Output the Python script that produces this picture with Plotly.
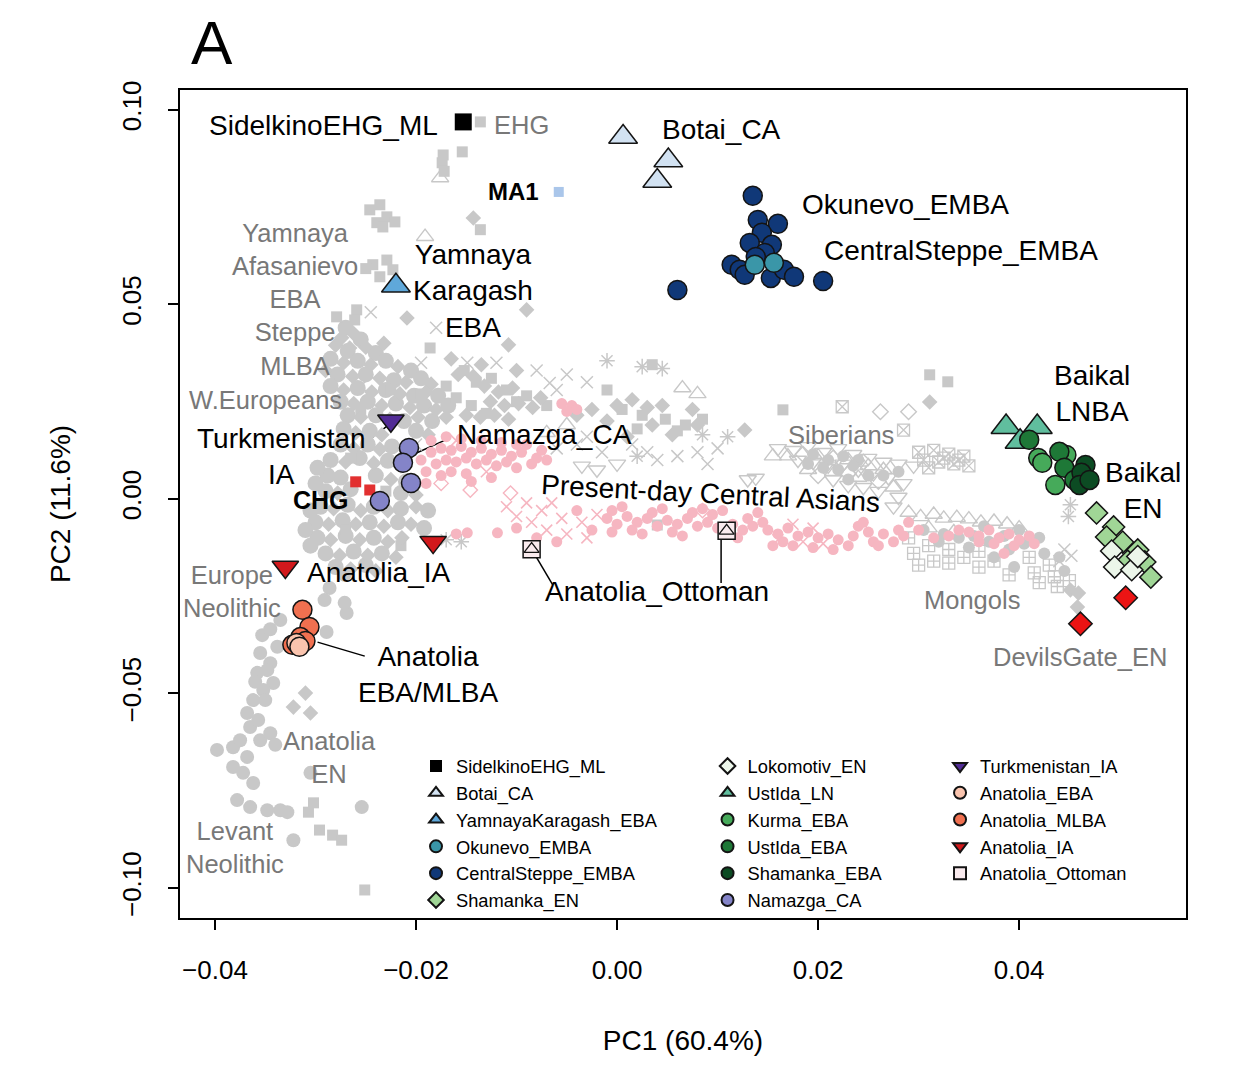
import plotly.graph_objects as go

# ------------------------------------------------------------------ DATA
# highlighted ancient groups (PC1, PC2)
SIDELKINO = [(-0.0153, 0.0969)]
MA1 = [(-0.0058, 0.0789)]
CHG = [(-0.0260, 0.0044), (-0.0246, 0.0023)]
BOTAI = [(0.0006, 0.0930), (0.0051, 0.0870), (0.0040, 0.0817)]
YAMNAYA_KARAGASH = [(-0.0220, 0.0548)]
OKUNEVO = [(0.0137, 0.0602), (0.0156, 0.0607)]
CENTRAL_STEPPE = [(0.0135, 0.0779), (0.0140, 0.0717), (0.0160, 0.0707), (0.0144, 0.0684),
                  (0.0132, 0.0658), (0.0154, 0.0653), (0.0147, 0.0632), (0.0138, 0.0622),
                  (0.0114, 0.0602), (0.0122, 0.0589), (0.0127, 0.0576), (0.0153, 0.0568),
                  (0.0166, 0.0589), (0.0176, 0.0571), (0.0205, 0.0560), (0.0060, 0.0537)]
SHAMANKA_EN = [(0.0477, -0.0036), (0.0494, -0.0072), (0.0487, -0.0098), (0.0503, -0.0111),
               (0.0518, -0.0131), (0.0525, -0.0162), (0.0531, -0.0201), (0.0508, -0.0160)]
LOKOMOTIV_EN = [(0.0492, -0.0134), (0.0495, -0.0175), (0.0512, -0.0182), (0.0518, -0.0148)]
USTIDA_LN = [(0.0387, 0.0185), (0.0418, 0.0185), (0.0401, 0.0147)]
KURMA_EBA = [(0.0419, 0.0105), (0.0436, 0.0036), (0.0447, 0.0113), (0.0423, 0.0093)]
USTIDA_EBA = [(0.0410, 0.0152), (0.0440, 0.0121), (0.0445, 0.0080), (0.0455, 0.0049)]
SHAMANKA_EBA = [(0.0466, 0.0087), (0.0462, 0.0067), (0.0460, 0.0036), (0.0470, 0.0049)]
NAMAZGA_CA = [(-0.0207, 0.0131), (-0.0213, 0.0093), (-0.0205, 0.0041), (-0.0236, -0.0005)]
TURKMENISTAN_IA = [(-0.0225, 0.0201)]
ANATOLIA_EBA = [(-0.0319, -0.0370), (-0.0316, -0.0380)]
ANATOLIA_MLBA = [(-0.0313, -0.0285), (-0.0306, -0.0329), (-0.0315, -0.0355),
                 (-0.0310, -0.0365), (-0.0323, -0.0375)]
ANATOLIA_IA = [(-0.0330, -0.0175), (-0.0183, -0.0111)]
ANATOLIA_OTTOMAN = [(-0.0085, -0.0129), (0.0109, -0.0082)]
DEVILSGATE_EN = [(0.0461, -0.0321), (0.0506, -0.0254)]

# background reference individuals (grey) and present-day Central Asians (pink)
BG_CIRCLE_ARC = [
    (-0.0289, -0.0342), (-0.0353, -0.0350), (-0.0335, -0.0311), (-0.0355, -0.0396), (-0.0345, -0.0422),
    (-0.0358, -0.0447), (-0.0342, -0.0473), (-0.0352, -0.0491), (-0.0362, -0.0517), (-0.0368, -0.0550),
    (-0.0365, -0.0586), (-0.0355, -0.0620), (-0.0398, -0.0645), (-0.0382, -0.0638), (-0.0368, -0.0663),
    (-0.0382, -0.0689), (-0.0372, -0.0704), (-0.0362, -0.0730), (-0.0378, -0.0774), (-0.0365, -0.0792),
    (-0.0348, -0.0800), (-0.0335, -0.0800), (-0.0328, -0.0805), (-0.0254, -0.0792), (-0.0322, -0.0877),
    (-0.0305, -0.0704), (-0.0345, -0.0602), (-0.0340, -0.0632), (-0.0269, -0.0293), (-0.0271, -0.0267),
    (-0.0286, -0.0229), (-0.0271, -0.0195), (-0.0291, -0.0260), (-0.0350, -0.0517), (-0.0357, -0.0568),
    (-0.0375, -0.0620), (-0.0348, -0.0440), (-0.0338, -0.0380), (-0.0345, -0.0335), (-0.0360, -0.0470),
]
BG_CIRCLE_BLOB = [
    (-0.0270, 0.0440), (-0.0255, 0.0410), (-0.0268, 0.0380), (-0.0240, 0.0375),
    (-0.0285, 0.0360), (-0.0258, 0.0355), (-0.0230, 0.0355), (-0.0205, 0.0330),
    (-0.0278, 0.0320), (-0.0250, 0.0320), (-0.0222, 0.0305), (-0.0195, 0.0310),
    (-0.0285, 0.0290), (-0.0258, 0.0285), (-0.0230, 0.0280), (-0.0202, 0.0265), (-0.0178, 0.0265),
    (-0.0275, 0.0250), (-0.0248, 0.0250), (-0.0220, 0.0245), (-0.0192, 0.0240), (-0.0168, 0.0240),
    (-0.0268, 0.0215), (-0.0240, 0.0215), (-0.0212, 0.0200), (-0.0184, 0.0200),
    (-0.0272, 0.0180), (-0.0246, 0.0175), (-0.0200, 0.0175),
    (-0.0275, 0.0140), (-0.0248, 0.0140), (-0.0224, 0.0135),
    (-0.0285, 0.0100), (-0.0256, 0.0105), (-0.0228, 0.0098),
    (-0.0288, 0.0060), (-0.0275, 0.0055), (-0.0240, 0.0060), (-0.0210, 0.0045),
    (-0.0290, 0.0020), (-0.0265, 0.0025), (-0.0215, 0.0015),
    (-0.0295, -0.0020), (-0.0268, -0.0015), (-0.0242, -0.0020), (-0.0215, -0.0025), (-0.0188, -0.0030),
    (-0.0300, -0.0060), (-0.0273, -0.0055), (-0.0246, -0.0060), (-0.0218, -0.0060), (-0.0192, -0.0075),
    (-0.0298, -0.0100), (-0.0270, -0.0095), (-0.0242, -0.0100),
    (-0.0290, -0.0140), (-0.0262, -0.0135), (-0.0234, -0.0140),
    (-0.0280, -0.0175), (-0.0250, -0.0170),
    (-0.0305, -0.0030), (-0.0310, -0.0080), (-0.0305, -0.0120), (-0.0300, 0.0040), (-0.0298, 0.0080),
]
BG_SQUARE = [
    (-0.0136, 0.0969), (-0.0154, 0.0892), (-0.0173, 0.0884), (-0.0174, 0.0864), (-0.0172, 0.0842),
    (-0.0246, 0.0743), (-0.0236, 0.0756), (-0.0229, 0.0725), (-0.0221, 0.0712), (-0.0239, 0.0710),
    (-0.0233, 0.0699), (-0.0136, 0.0692),
    (-0.0243, 0.0602), (-0.0229, 0.0614), (-0.0223, 0.0589), (-0.0236, 0.0571), (-0.0250, 0.0592),
    (-0.0279, 0.0468), (-0.0259, 0.0486), (-0.0261, 0.0460), (-0.0186, 0.0388),
    (-0.0302, -0.0781), (-0.0307, -0.0805), (-0.0296, -0.0851), (-0.0283, -0.0864), (-0.0274, -0.0877),
    (-0.0251, -0.1005),
    (0.0311, 0.0319), (0.0329, 0.0301), (0.0165, 0.0229), (0.0040, -0.0067), (-0.0010, 0.0280),
    (0.0035, 0.0345),
    (-0.0152, 0.0330), (-0.0140, 0.0300), (-0.0125, 0.0310), (-0.0110, 0.0280), (-0.0100, 0.0250),
    (-0.0090, 0.0265), (-0.0070, 0.0240), (-0.0160, 0.0260), (-0.0145, 0.0240), (-0.0130, 0.0220),
    (-0.0170, 0.0290),
    (0.0005, 0.0230), (0.0025, 0.0215), (0.0048, 0.0205), (0.0068, 0.0190), (0.0085, 0.0205),
    (0.0060, 0.0175), (0.0020, 0.0180),
    (-0.0255, 0.0230), (-0.0225, 0.0280), (-0.0195, 0.0270), (-0.0265, 0.0105), (-0.0230, 0.0020),
    (-0.0270, -0.0080), (-0.0215, -0.0120),
]
BG_DIAMOND = [
    (-0.0262, 0.0425), (-0.0280, 0.0395), (-0.0250, 0.0390), (-0.0232, 0.0400),
    (-0.0272, 0.0350), (-0.0245, 0.0345), (-0.0218, 0.0340),
    (-0.0290, 0.0330), (-0.0263, 0.0315), (-0.0236, 0.0310), (-0.0210, 0.0300), (-0.0185, 0.0295),
    (-0.0272, 0.0280), (-0.0244, 0.0275), (-0.0216, 0.0270), (-0.0190, 0.0275),
    (-0.0262, 0.0245), (-0.0234, 0.0240), (-0.0206, 0.0235), (-0.0180, 0.0230),
    (-0.0255, 0.0210), (-0.0226, 0.0205), (-0.0198, 0.0210), (-0.0170, 0.0210),
    (-0.0260, 0.0170), (-0.0234, 0.0165), (-0.0188, 0.0165),
    (-0.0262, 0.0130), (-0.0236, 0.0128),
    (-0.0270, 0.0095), (-0.0242, 0.0092), (-0.0215, 0.0085), (-0.0225, 0.0050),
    (-0.0278, 0.0015), (-0.0200, 0.0010),
    (-0.0282, -0.0025), (-0.0255, -0.0030), (-0.0228, -0.0030), (-0.0200, -0.0020),
    (-0.0287, -0.0065), (-0.0260, -0.0065), (-0.0232, -0.0070), (-0.0205, -0.0065),
    (-0.0285, -0.0105), (-0.0256, -0.0105), (-0.0228, -0.0110), (-0.0214, -0.0100),
    (-0.0276, -0.0145), (-0.0248, -0.0145), (-0.0220, -0.0150),
    (-0.0265, -0.0180), (-0.0240, -0.0185),
    (-0.0143, 0.0722), (-0.0090, 0.0486), (-0.0108, 0.0396), (-0.0209, 0.0465), (-0.0274, 0.0414),
    (-0.0266, 0.0388), (-0.0310, -0.0499), (-0.0322, -0.0535), (-0.0305, -0.0550),
    (0.0311, 0.0249), (0.0127, 0.0177), (0.0451, -0.0234), (0.0459, -0.0242), (0.0458, -0.0278),
    (-0.0135, 0.0345), (-0.0118, 0.0275), (-0.0098, 0.0245), (-0.0084, 0.0235), (-0.0150, 0.0215),
    (-0.0122, 0.0215), (-0.0108, 0.0205),
    (0.0000, 0.0240), (0.0015, 0.0255), (0.0030, 0.0235), (0.0045, 0.0240), (0.0075, 0.0230),
    (-0.0010, 0.0200), (0.0035, 0.0190), (0.0080, 0.0190), (0.0010, 0.0160), (0.0055, 0.0165),
    (-0.0165, 0.0360), (-0.0158, 0.0320), (-0.0143, 0.0315), (-0.0100, 0.0330), (-0.0132, 0.0290),
    (-0.0104, 0.0285), (-0.0076, 0.0260), (-0.0126, 0.0250), (-0.0112, 0.0240), (-0.0136, 0.0210),
    (-0.0040, 0.0215), (-0.0025, 0.0230),
]
BG_CROSS = [
    (-0.0080, 0.0330), (-0.0050, 0.0320), (-0.0030, 0.0300), (-0.0060, 0.0280), (-0.0180, 0.0440),
    (-0.0245, 0.0480), (-0.0120, 0.0350), (0.0030, 0.0120), (0.0060, 0.0110), (0.0080, 0.0120),
    (0.0100, 0.0130), (0.0040, 0.0100), (-0.0040, 0.0140), (-0.0060, 0.0130), (-0.0015, 0.0120),
    (-0.0030, 0.0160), (0.0015, 0.0140), (0.0090, 0.0090), (-0.0255, 0.0290), (-0.0195, 0.0350),
    (-0.0215, 0.0120), (-0.0200, 0.0140), (0.0445, -0.0130), (0.0452, -0.0146), (0.0440, -0.0160),
    (-0.0149, 0.0350), (-0.0067, 0.0298),
]
BG_ASTERISK = [
    (-0.0010, 0.0355), (0.0025, 0.0340), (0.0045, 0.0335), (-0.0155, -0.0110), (0.0085, 0.0165),
    (0.0110, 0.0160), (0.0451, -0.0015), (0.0449, -0.0045), (-0.0170, -0.0105), (0.0020, 0.0110),
]
BG_TRI_UP = [
    (-0.0176, 0.0825), (-0.0191, 0.0674),
    (0.0170, 0.0110), (0.0200, 0.0110), (0.0230, 0.0100), (0.0215, 0.0070), (0.0250, 0.0085),
    (0.0190, 0.0075), (0.0240, 0.0055), (0.0265, 0.0075), (0.0155, 0.0110), (0.0275, 0.0030),
    (0.0290, -0.0035), (0.0302, -0.0046), (0.0315, -0.0040), (0.0325, -0.0050), (0.0338, -0.0048),
    (0.0350, -0.0052), (0.0362, -0.0060), (0.0375, -0.0058), (0.0388, -0.0065), (0.0400, -0.0075),
    (0.0310, -0.0075), (0.0335, -0.0085),
    (0.0065, 0.0285), (0.0080, 0.0270), (-0.0050, 0.0190), (-0.0070, 0.0170),
]
BG_TRI_DOWN = [
    (0.0160, 0.0130), (0.0175, 0.0125), (0.0190, 0.0135), (0.0205, 0.0120), (0.0220, 0.0130),
    (0.0235, 0.0115), (0.0250, 0.0105), (0.0265, 0.0095), (0.0280, 0.0090), (0.0295, 0.0085),
    (0.0180, 0.0100), (0.0195, 0.0095), (0.0210, 0.0085), (0.0225, 0.0090), (0.0240, 0.0075),
    (0.0255, 0.0065), (0.0270, 0.0055), (0.0285, 0.0040), (0.0280, 0.0005), (0.0275, -0.0020),
    (0.0138, 0.0054), (0.0130, 0.0050), (0.0215, 0.0050), (0.0230, 0.0035), (0.0245, 0.0030),
    (0.0260, 0.0020), (-0.0035, 0.0085), (-0.0020, 0.0075), (0.0000, 0.0090),
]
BG_DIAMOND_OPEN = [
    (0.0262, 0.0224), (0.0290, 0.0224), (0.0185, 0.0115), (0.0215, 0.0105), (0.0245, 0.0095),
    (0.0200, 0.0060), (0.0230, 0.0065), (0.0260, 0.0045),
]
BG_SQUARE_X = [
    (0.0285, 0.0177), (0.0224, 0.0237),
    (0.0300, 0.0120), (0.0315, 0.0125), (0.0330, 0.0115), (0.0345, 0.0110), (0.0305, 0.0100),
    (0.0320, 0.0095), (0.0335, 0.0090), (0.0350, 0.0085), (0.0310, 0.0080), (0.0325, 0.0105),
    (0.0340, 0.0100),
]
BG_SQUARE_CROSS = [
    (0.0290, -0.0100), (0.0295, -0.0140), (0.0310, -0.0120), (0.0315, -0.0160), (0.0330, -0.0130),
    (0.0345, -0.0150), (0.0360, -0.0135), (0.0375, -0.0160), (0.0390, -0.0195), (0.0410, -0.0150),
    (0.0415, -0.0190), (0.0430, -0.0170), (0.0435, -0.0200), (0.0450, -0.0210), (0.0438, -0.0225),
    (0.0420, -0.0215), (0.0360, -0.0175), (0.0330, -0.0165), (0.0300, -0.0170),
]
BG_SMALL_FILL = [
    (0.0305, -0.0080), (0.0325, -0.0090), (0.0340, -0.0100), (0.0355, -0.0095), (0.0365, -0.0070),
    (0.0370, -0.0110), (0.0385, -0.0095), (0.0390, -0.0130), (0.0400, -0.0080), (0.0405, -0.0115),
    (0.0420, -0.0100), (0.0425, -0.0140), (0.0440, -0.0150), (0.0445, -0.0185), (0.0395, -0.0175),
    (0.0375, -0.0150), (0.0350, -0.0125), (0.0320, -0.0110),
    (0.0195, 0.0115), (0.0210, 0.0100), (0.0225, 0.0110), (0.0240, 0.0100), (0.0205, 0.0080),
    (0.0220, 0.0075), (0.0235, 0.0085), (0.0250, 0.0060), (0.0230, 0.0050), (0.0265, 0.0060),
    (0.0190, 0.0090), (0.0280, 0.0070),
]
PINK_DOT = [
    (-0.0185, 0.0120), (-0.0175, 0.0130), (-0.0165, 0.0125), (-0.0155, 0.0135), (-0.0145, 0.0120),
    (-0.0135, 0.0130), (-0.0125, 0.0115), (-0.0115, 0.0125), (-0.0105, 0.0110), (-0.0095, 0.0120),
    (-0.0180, 0.0090), (-0.0170, 0.0100), (-0.0160, 0.0095), (-0.0150, 0.0105), (-0.0140, 0.0090),
    (-0.0130, 0.0100), (-0.0120, 0.0085), (-0.0110, 0.0095), (-0.0175, 0.0060), (-0.0165, 0.0070),
    (-0.0150, 0.0065), (-0.0190, 0.0040),
    (-0.0155, 0.0155), (-0.0135, 0.0150), (-0.0115, 0.0145), (-0.0090, 0.0140), (-0.0080, 0.0105),
    (-0.0100, 0.0080), (-0.0085, 0.0090), (-0.0145, 0.0045), (-0.0125, 0.0055),
    (-0.0185, 0.0150), (-0.0170, 0.0160), (-0.0195, 0.0100), (-0.0190, 0.0070), (-0.0100, 0.0140),
    (-0.0075, 0.0125), (-0.0070, 0.0100),
    (-0.0055, 0.0245), (-0.0045, 0.0240), (-0.0050, 0.0225), (-0.0040, 0.0230),
    (-0.0149, -0.0087), (-0.0119, -0.0087), (-0.0160, -0.0090),
    (-0.0010, -0.0050), (0.0000, -0.0065), (0.0010, -0.0045), (0.0020, -0.0060), (0.0030, -0.0050),
    (0.0040, -0.0070), (0.0050, -0.0055), (0.0060, -0.0065), (0.0070, -0.0050), (0.0080, -0.0070),
    (0.0090, -0.0060), (0.0100, -0.0075), (0.0115, -0.0065), (0.0125, -0.0080), (0.0135, -0.0070),
    (-0.0005, -0.0030), (0.0015, -0.0080), (0.0035, -0.0035), (0.0055, -0.0085), (0.0075, -0.0035),
    (0.0095, -0.0040), (0.0110, -0.0090), (0.0130, -0.0050), (0.0145, -0.0060), (0.0165, -0.0110),
    (0.0240, -0.0070), (0.0255, -0.0110), (0.0290, -0.0060),
    (-0.0100, -0.0075), (-0.0080, -0.0100), (-0.0060, -0.0110), (-0.0040, -0.0030), (-0.0025, -0.0080),
    (-0.0005, -0.0085), (0.0005, -0.0020), (0.0025, -0.0090), (0.0045, -0.0025), (0.0065, -0.0095),
    (0.0085, -0.0025), (0.0105, -0.0030), (0.0120, -0.0100), (0.0140, -0.0035), (0.0155, -0.0120),
    (0.0175, -0.0120), (0.0195, -0.0125), (0.0215, -0.0130), (0.0230, -0.0120), (0.0245, -0.0060),
    (0.0260, -0.0120), (0.0275, -0.0110), (0.0285, -0.0095), (0.0300, -0.0080), (0.0315, -0.0100),
    (0.0330, -0.0095), (0.0340, -0.0080),
    (0.0150, -0.0080), (0.0160, -0.0090), (0.0170, -0.0075), (0.0180, -0.0095), (0.0190, -0.0085),
    (0.0200, -0.0100), (0.0210, -0.0090), (0.0220, -0.0105), (0.0235, -0.0095), (0.0250, -0.0085),
    (0.0265, -0.0090), (0.0280, -0.0080),
    (0.0350, -0.0085), (0.0360, -0.0095), (0.0370, -0.0080), (0.0380, -0.0100), (0.0390, -0.0090),
    (0.0400, -0.0105), (0.0410, -0.0095), (0.0375, -0.0115), (0.0395, -0.0120), (0.0360, -0.0110),
    (0.0415, -0.0115), (0.0385, -0.0140),
]
PINK_CROSS = [
    (-0.0110, -0.0020), (-0.0100, -0.0045), (-0.0090, -0.0010), (-0.0085, -0.0060), (-0.0075, -0.0030),
    (-0.0070, -0.0080), (-0.0065, -0.0010), (-0.0055, -0.0050), (-0.0050, -0.0090), (-0.0035, -0.0060),
    (-0.0030, -0.0100), (-0.0020, -0.0040), (0.0175, -0.0065), (0.0195, -0.0075), (0.0185, -0.0110),
    (0.0205, -0.0115), (0.0160, -0.0105), (-0.0130, 0.0070), (-0.0160, 0.0150),
]
PINK_DIAMOND_OPEN = [(-0.0146, 0.0023), (-0.0106, 0.0015), (-0.0175, 0.0040), (0.0085, -0.0030)]

# ------------------------------------------------------------------ STYLE
GRAY = "rgb(200,200,200)"
PINK = "rgb(246,182,193)"
FONT = "Liberation Sans, Arial, Helvetica, sans-serif"


def xs(points):
    return [p[0] for p in points]


def ys(points):
    return [p[1] for p in points]


fig = go.Figure()


def bg(points, symbol, size, color=GRAY, lw=0.0):
    fig.add_trace(go.Scatter(
        x=xs(points), y=ys(points), mode="markers", showlegend=False, hoverinfo="skip",
        marker=dict(symbol=symbol, size=size, color=color, line=dict(width=lw, color=color))))


bg(BG_SQUARE_CROSS, "square-cross-open", 12, lw=1.3)
bg(BG_SQUARE_X, "square-x-open", 12, lw=1.3)
bg(BG_TRI_UP, "triangle-up-open", 15, lw=1.4)
bg(BG_TRI_DOWN, "triangle-down-open", 15, lw=1.4)
bg(BG_DIAMOND_OPEN, "diamond-open", 12, lw=1.4)
bg(BG_SMALL_FILL, "circle", 12)
bg(BG_CROSS, "x-thin-open", 12, lw=1.5)
bg(BG_ASTERISK, "asterisk-open", 13, lw=1.5)
bg(BG_CIRCLE_ARC, "circle", 14)
bg(BG_CIRCLE_BLOB, "circle", 16)
bg(BG_SQUARE, "square", 11)
bg(BG_DIAMOND, "diamond", 12)
bg(PINK_DOT, "circle", 11, color=PINK)
bg(PINK_CROSS, "x-thin-open", 11, color=PINK, lw=1.6)
bg(PINK_DIAMOND_OPEN, "diamond-open", 11, color=PINK, lw=1.4)

# unlabeled highlighted points
bg(MA1, "square", 10, color="rgb(170,198,234)")
bg(CHG, "square", 11, color="rgb(226,48,48)")

OUT = "rgb(20,20,20)"


def hl(points, name, symbol, size, color, legend, rank, lw=1.5, show=True):
    fig.add_trace(go.Scatter(
        x=xs(points), y=ys(points), mode="markers", name=name, legend=legend,
        legendrank=rank, showlegend=show,
        marker=dict(symbol=symbol, size=size, color=color, line=dict(width=lw, color=OUT))))


hl(DEVILSGATE_EN, "DevilsGate_EN", "diamond", 18, "rgb(235,20,20)", "legend", 999, show=False)
hl(SHAMANKA_EN, "Shamanka_EN", "diamond", 17, "rgb(160,214,150)", "legend", 6)
hl(LOKOMOTIV_EN, "Lokomotiv_EN", "diamond", 17, "rgb(236,246,234)", "legend2", 1)
hl(USTIDA_LN, "UstIda_LN", "triangle-up", 26, "rgb(96,190,158)", "legend2", 2)
hl(KURMA_EBA, "Kurma_EBA", "circle", 19, "rgb(70,170,90)", "legend2", 3)
hl(USTIDA_EBA, "UstIda_EBA", "circle", 19, "rgb(30,120,55)", "legend2", 4)
hl(SHAMANKA_EBA, "Shamanka_EBA", "circle", 19, "rgb(12,75,35)", "legend2", 5)
hl(BOTAI, "Botai_CA", "triangle-up", 25, "rgb(210,226,242)", "legend", 2)
hl(YAMNAYA_KARAGASH, "YamnayaKaragash_EBA", "triangle-up", 25, "rgb(95,168,218)", "legend", 3)
hl(CENTRAL_STEPPE, "CentralSteppe_EMBA", "circle", 19, "rgb(16,56,120)", "legend", 5)
hl(OKUNEVO, "Okunevo_EMBA", "circle", 19, "rgb(58,150,168)", "legend", 4)
hl(SIDELKINO, "SidelkinoEHG_ML", "square", 17, "black", "legend", 1, lw=0)
hl(NAMAZGA_CA, "Namazga_CA", "circle", 19, "rgb(132,132,200)", "legend2", 6)
hl(TURKMENISTAN_IA, "Turkmenistan_IA", "triangle-down", 23, "rgb(82,44,150)", "legend3", 1)
hl(ANATOLIA_MLBA, "Anatolia_MLBA", "circle", 19, "rgb(240,112,80)", "legend3", 3)
hl(ANATOLIA_EBA, "Anatolia_EBA", "circle", 19, "rgb(250,196,174)", "legend3", 2)
hl(ANATOLIA_IA, "Anatolia_IA", "triangle-down", 23, "rgb(210,25,28)", "legend3", 4)
hl(ANATOLIA_OTTOMAN, "Anatolia_Ottoman", "square", 17, "rgb(250,235,238)", "legend3", 5)
fig.add_trace(go.Scatter(
    x=xs(ANATOLIA_OTTOMAN), y=ys(ANATOLIA_OTTOMAN), mode="markers", showlegend=False,
    hoverinfo="skip", marker=dict(symbol="triangle-up-open", size=13, color=OUT, line=dict(width=1.3))))

# ------------------------------------------------------------------ LABELS
BLACK = "black"
LGRAY = "rgb(120,120,120)"
B, G = 28, 25.5
labels = [
    ("SidelkinoEHG_ML", -0.0176, 0.0961, "right", BLACK, B, 0, False),
    ("EHG", -0.01244, 0.0961, "left", LGRAY, G, 0, False),
    ("MA1", -0.0076, 0.0789, "right", BLACK, 24, 0, True),
    ("Botai_CA", 0.0043, 0.0949, "left", BLACK, B, 0, False),
    ("Okunevo_EMBA", 0.0182, 0.0758, "left", BLACK, B, 0, False),
    ("CentralSteppe_EMBA", 0.0204, 0.0638, "left", BLACK, B, 0, False),
    ("Yamnaya<br>Karagash<br>EBA", -0.0143, 0.0535, "center", BLACK, B, 0, False),
    ("Yamnaya<br>Afasanievo<br>EBA<br>Steppe<br>MLBA", -0.0320, 0.0512, "center", LGRAY, G, 0, False),
    ("W.Europeans", -0.0350, 0.0254, "center", LGRAY, G, 0, False),
    ("Turkmenistan<br>IA", -0.0334, 0.0108, "center", BLACK, B, 0, False),
    ("CHG", -0.0295, -0.0003, "center", BLACK, 25, 0, True),
    ("Namazga_CA", -0.0161, 0.0165, "left", BLACK, B, 0, False),
    ("Present-day Central Asians", 0.0093, 0.0013, "center", BLACK, B, 3, False),
    ("Siberians", 0.0223, 0.0165, "center", LGRAY, G, 0, False),
    ("Baikal<br>LNBA", 0.0472, 0.0270, "center", BLACK, B, 0, False),
    ("Baikal<br>EN", 0.0523, 0.0021, "center", BLACK, B, 0, False),
    ("Mongols", 0.0353, -0.0260, "center", LGRAY, G, 0, False),
    ("DevilsGate_EN", 0.0461, -0.0406, "center", LGRAY, G, 0, False),
    ("Anatolia_IA", -0.0310, -0.0188, "left", BLACK, B, 0, False),
    ("Europe<br>Neolithic", -0.0383, -0.0239, "center", LGRAY, G, 0, False),
    ("Anatolia_Ottoman", 0.0040, -0.0237, "center", BLACK, B, 0, False),
    ("Anatolia<br>EBA/MLBA", -0.0188, -0.0452, "center", BLACK, B, 0, False),
    ("Anatolia<br>EN", -0.0286, -0.0664, "center", LGRAY, G, 0, False),
    ("Levant<br>Neolithic", -0.0380, -0.0897, "center", LGRAY, G, 0, False),
]
annotations = []
for text, x, y, anchor, color, size, angle, bold in labels:
    annotations.append(dict(
        text=f"<b>{text}</b>" if bold else text, x=x, y=y, xref="x", yref="y",
        xanchor=anchor, yanchor="middle", showarrow=False, textangle=angle, align="center",
        font=dict(family=FONT, size=size, color=color)))
annotations.append(dict(text="A", x=0.0317, y=1.0568, xref="paper", yref="paper",
                        xanchor="center", yanchor="middle", showarrow=False,
                        font=dict(family=FONT, size=62, color="black")))

leaders = [
    ((-0.0248, 0.0149), (-0.0225, 0.0195)),
    ((-0.0166, 0.0157), (-0.0204, 0.0113)),
    ((-0.0085, -0.0129), (-0.0064, -0.0221)),
    ((0.01035, -0.0105), (0.01035, -0.0216)),
    ((-0.0298, -0.0368), (-0.0251, -0.0404)),
]
shapes = [dict(type="line", xref="x", yref="y", x0=a[0], y0=a[1], x1=b[0], y1=b[1],
               line=dict(color="black", width=1.5), layer="below") for a, b in leaders]

legend_common = dict(yanchor="top", xanchor="left", bgcolor="rgba(0,0,0,0)",
                     font=dict(family=FONT, size=18.3, color="black"),
                     itemsizing="constant", tracegroupgap=0, traceorder="normal")

fig.update_layout(
    width=1252, height=1091,
    margin=dict(l=172, r=74, t=82, b=181),
    paper_bgcolor="white", plot_bgcolor="white",
    font=dict(family=FONT, color="black"),
    annotations=annotations, shapes=shapes,
    legend=dict(x=0.2346, y=0.2058, **legend_common),
    legend2=dict(x=0.5244, y=0.2058, **legend_common),
    legend3=dict(x=0.7555, y=0.2058, **legend_common),
    xaxis=dict(range=[-0.04348, 0.0566], tick0=-0.04, dtick=0.02, tickformat=".2f",
               ticks="outside", ticklen=10, tickwidth=1.5, tickcolor="black",
               showline=True, linecolor="black", linewidth=1.5, mirror=True,
               showgrid=False, zeroline=False, ticklabelstandoff=18,
               tickfont=dict(family=FONT, size=26),
               title=dict(text="PC1 (60.4%)", font=dict(family=FONT, size=28), standoff=46)),
    yaxis=dict(range=[-0.1077, 0.1051], tick0=-0.10, dtick=0.05, tickformat=".2f",
               tickangle=-90, ticks="outside", ticklen=10, tickwidth=1.5, tickcolor="black",
               showline=True, linecolor="black", linewidth=1.5, mirror=True,
               showgrid=False, zeroline=False, ticklabelstandoff=17,
               tickfont=dict(family=FONT, size=26),
               title=dict(text="PC2 (11.6%)", font=dict(family=FONT, size=28), standoff=38)),
)

fig.write_html("out.html")
